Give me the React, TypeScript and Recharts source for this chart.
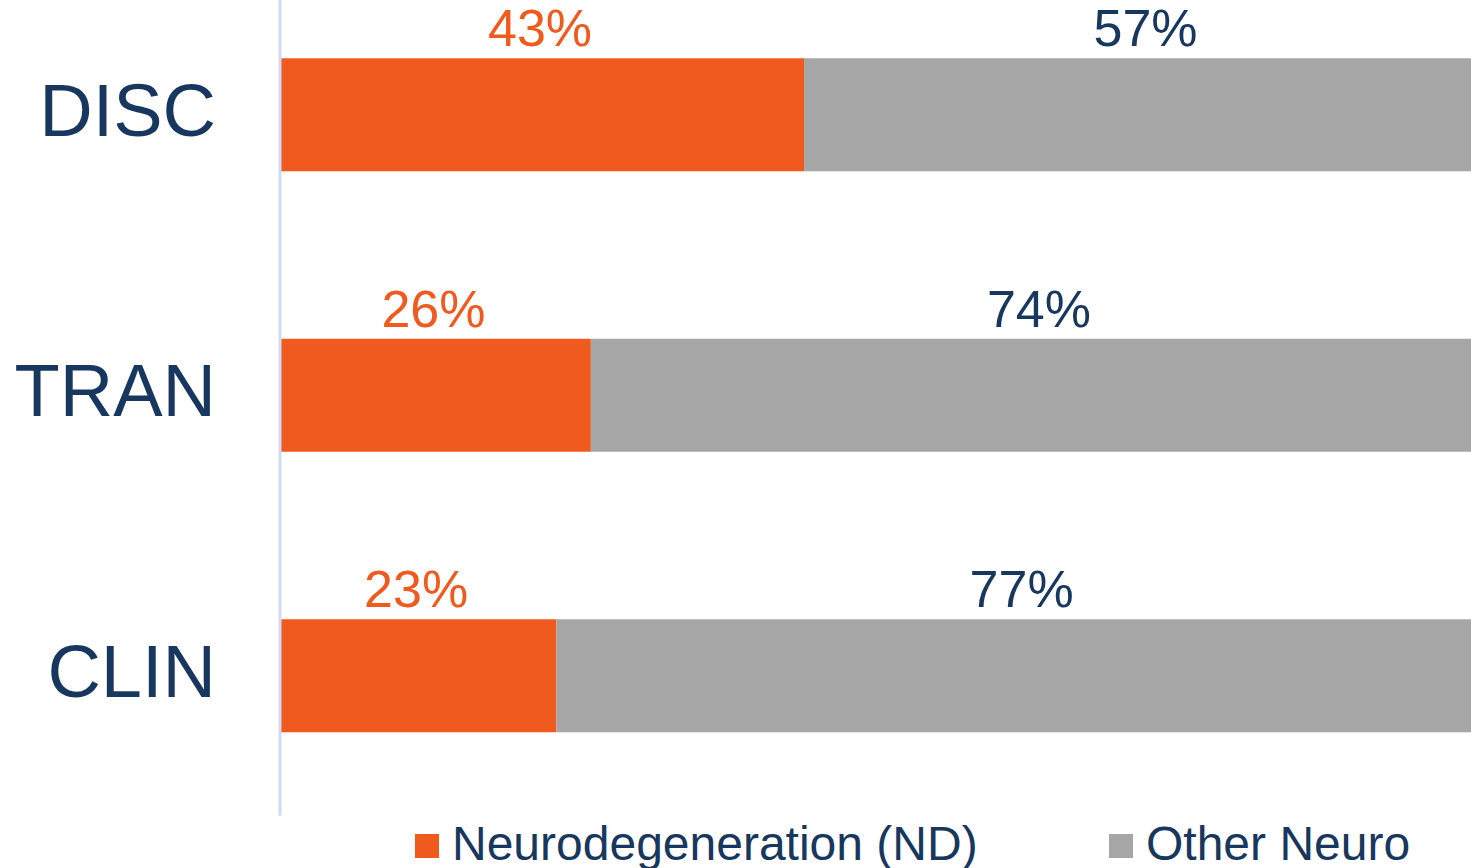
import { BarChart, Bar, XAxis, YAxis, LabelList, Legend } from 'recharts';

const stages = ['DISC', 'TRAN', 'CLIN'];
const ndValues = [44, 26.1, 23.2];
const otherValues = [56, 73.9, 76.8];
const ndLabels = ['43%', '26%', '23%'];
const otherLabels = ['57%', '74%', '77%'];

const ORANGE = '#F15A1E';
const GRAY = '#A6A6A6';
const NAVY = '#17375E';
const FONT = '"Liberation Sans", Arial, sans-serif';

const data = stages.map((stage, i) => ({
  stage,
  nd: ndValues[i],
  other: otherValues[i],
  ndLabel: ndLabels[i],
  otherLabel: otherLabels[i],
}));

function StageTick({ y, payload }: any) {
  return (
    <text x={216} y={y} dy={21} textAnchor="end" fontSize={74} fill={NAVY} fontFamily={FONT}>
      {payload.value}
    </text>
  );
}

function LegendBox() {
  return (
    <svg width={1471} height={58} style={{ display: 'block', overflow: 'visible' }}>
      <rect x={415} y={24} width={24} height={24} fill={ORANGE} />
      <text x={452} y={50} fontSize={48} fill={NAVY} fontFamily={FONT}>
        Neurodegeneration (ND)
      </text>
      <rect x={1109} y={24} width={24} height={24} fill={GRAY} />
      <text x={1146} y={50} fontSize={48} fill={NAVY} fontFamily={FONT}>
        Other Neuro
      </text>
    </svg>
  );
}

export default function App() {
  return (
    <div style={{ position: 'absolute', left: 0, top: 0, width: 1471, height: 868, overflow: 'hidden', background: '#fff' }}>
      <BarChart
        width={1471}
        height={868}
        data={data}
        layout="vertical"
        margin={{ top: -25.75, right: 0, bottom: 52.25, left: 0 }}
      >
        <XAxis type="number" domain={[0, 100]} hide />
        <YAxis
          type="category"
          dataKey="stage"
          width={280}
          axisLine={{ stroke: '#CFDBF4', strokeWidth: 3 }}
          tickLine={false}
          tick={<StageTick />}
        />
        <Legend
          layout="horizontal"
          verticalAlign="middle"
          wrapperStyle={{ top: 810, left: 0, width: 1471, height: 58 }}
          content={() => <LegendBox />}
        />
        <Bar dataKey="nd" stackId="a" fill={ORANGE} barSize={113} isAnimationActive={false}>
          <LabelList dataKey="ndLabel" position="top" offset={12} dx={-2} fill={ORANGE} fontSize={52} fontFamily={FONT} />
        </Bar>
        <Bar dataKey="other" stackId="a" fill={GRAY} barSize={113} isAnimationActive={false}>
          <LabelList dataKey="otherLabel" position="top" offset={12} dx={8} fill={NAVY} fontSize={52} fontFamily={FONT} />
        </Bar>
      </BarChart>
    </div>
  );
}
